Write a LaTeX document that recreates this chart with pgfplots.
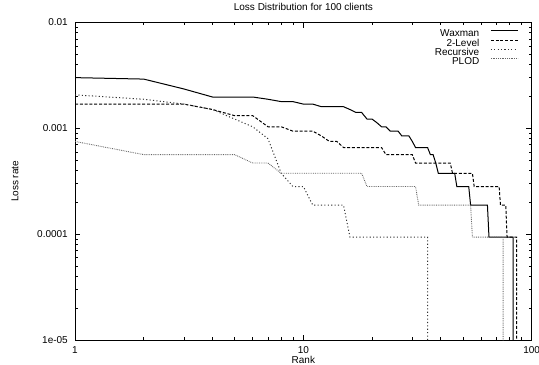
\documentclass[border=0pt]{standalone}
\usepackage{fontspec}
\setmainfont{Liberation Sans}
\usepackage{pgfplots}
\pgfplotsset{compat=1.18}
\newcommand{\gfont}{\fontsize{10bp}{12bp}\selectfont}
\begin{document}
\begin{tikzpicture}
\path[use as bounding box] (-75bp,-24.7bp) rectangle (464bp,340.3bp);
\begin{loglogaxis}[
  at={(0,0)}, anchor=south west,
  scale only axis, width=456.7bp, height=317.8bp,
  xmin=1, xmax=100, ymin=1e-5, ymax=1e-2,
  xtick={1,10,100}, xticklabels={1,10,100},
  ytick={1e-5,1e-4,1e-3,1e-2}, yticklabels={1e-05,0.0001,0.001,0.01},
  minor xtick={2,3,4,5,6,7,8,9,20,30,40,50,60,70,80,90},
  minor ytick={2e-5,3e-5,4e-5,5e-5,6e-5,7e-5,8e-5,9e-5,2e-4,3e-4,4e-4,5e-4,6e-4,7e-4,8e-4,9e-4,2e-3,3e-3,4e-3,5e-3,6e-3,7e-3,8e-3,9e-3},
  tick align=inside,
  major tick length=5.5bp, minor tick length=3bp,
  every tick/.style={black, line width=0.8bp},
  axis line style={line width=1bp},
  tick label style={font=\gfont},
  xticklabel style={anchor=base, inner sep=0pt, yshift=-13.2bp},
  yticklabel style={anchor=east, inner sep=0pt, xshift=-7bp},
  title={Loss Distribution for 100 clients},
  title style={at={(axis description cs:0.5,1)}, anchor=base, yshift=5.8bp, inner sep=0pt, font=\gfont},
  xlabel={Rank},
  xlabel style={at={(axis description cs:0.5,-0.0633)}, anchor=center, inner sep=0pt, font=\gfont},
  ylabel={Loss rate},
  ylabel style={at={(axis description cs:-0.1314,0.5)}, anchor=center, inner sep=0pt, font=\gfont},
  legend style={draw=none, fill=none, at={(1,1)}, anchor=north east, xshift=-13.4bp, yshift=-7.2bp,
    font=\gfont, inner sep=0pt, outer sep=0pt, row sep=0pt, column sep=11bp,
    nodes={inner sep=0pt, text height=7.2bp, text depth=2bp}},
  legend cell align=right, legend plot pos=right,
  legend image code/.code={\draw[#1] (0bp,3.5bp) -- (27bp,3.5bp);},
]
\addplot[black, line width=1bp, solid] coordinates {
(1,0.0030176)(2,0.0029233)(3,0.0023575)(4,0.0019803)(6,0.0019803)(7,0.001886)(8,0.0017917)(9,0.0017917)(10,0.0016974)(11,0.0016974)(12,0.0016031)(15,0.0016031)(16,0.0015088)(17,0.0014145)(18,0.0014145)(19,0.0012259)(20,0.0012259)(21,0.0011316)(22,0.0010373)(23,0.0010373)(24,0.000943)(26,0.000943)(27,0.0008487)(29,0.0008487)(30,0.0007544)(31,0.0006601)(35,0.0006601)(36,0.0005658)(37,0.0005658)(38,0.0004715)(39,0.0003772)(46,0.0003772)(47,0.0002829)(53,0.0002829)(54,0.0001886)(64,0.0001886)(65,0.0000943)(83,0.0000943)(83,0.0000001)
};
\addlegendentry{Waxman}
\addplot[black, line width=1bp, dash pattern=on 3bp off 1.8bp] coordinates {
(1,0.0016974)(3,0.0016974)(4,0.0015088)(5,0.0013202)(6,0.0013202)(7,0.0010373)(8,0.0010373)(9,0.000943)(11,0.000943)(12,0.0008487)(13,0.0007544)(14,0.0007544)(15,0.0006601)(22,0.0006601)(23,0.0005658)(30,0.0005658)(31,0.0004715)(44,0.0004715)(45,0.0003772)(55,0.0003772)(56,0.0002829)(72,0.0002829)(73,0.0001886)(77,0.0001886)(78,0.0000943)(86,0.0000943)(86,0.0000001)
};
\addlegendentry{2-Level}
\addplot[black!80, line width=1bp, dash pattern=on 1.1bp off 2.3bp] coordinates {
(1,0.0020746)(2,0.001886)(3,0.0016974)(4,0.0015088)(5,0.0012259)(6,0.0010373)(7,0.0008)(8,0.0003772)(9,0.0002829)(10,0.0002829)(11,0.0001886)(15,0.0001886)(16,0.0000943)(35,0.0000943)(35,0.0000001)
};
\addlegendentry{Recursive}
\addplot[black!60, line width=0.9bp, dash pattern=on 0.8bp off 1bp] coordinates {
(1,0.0007544)(2,0.0005658)(5,0.0005658)(6,0.0004715)(7,0.0004715)(8,0.0003772)(18,0.0003772)(19,0.0002829)(31,0.0002829)(32,0.0001886)(54,0.0001886)(55,0.0000943)(75,0.0000943)(75,0.0000001)
};
\addlegendentry{PLOD}
\end{loglogaxis}
\end{tikzpicture}
\end{document}
